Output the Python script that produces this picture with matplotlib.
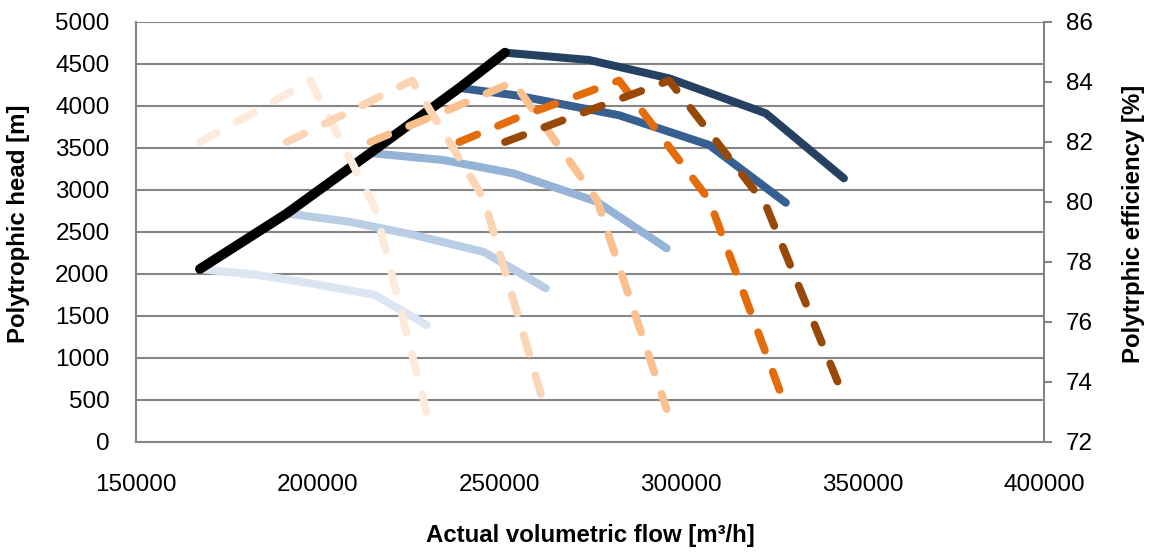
import matplotlib
matplotlib.use("Agg")
import matplotlib.pyplot as plt

# Speed lines: actual volumetric flow [m3/h], polytropic head [m], efficiency [%]
flow_1 = [167600, 183200, 198000, 215800, 230000]
head_1 = [2060, 1990, 1890, 1750, 1393]
eff_1 = [82.0, 83.03, 84.05, 79.8, 73.0]

flow_2 = [191500, 208600, 226000, 245800, 262800]
head_2 = [2720, 2623, 2470, 2262, 1830]
eff_2 = [82.0, 83.0, 84.05, 80.1, 73.05]

flow_3 = [214500, 234600, 253900, 276900, 296100]
head_3 = [3440, 3357, 3198, 2861, 2306]
eff_3 = [82.0, 83.0, 84.0, 80.07, 73.1]

flow_4 = [239000, 254800, 283000, 307800, 328900]
head_4 = [4215, 4125, 3890, 3536, 2849]
eff_4 = [82.0, 82.8, 84.05, 80.07, 73.17]

flow_5 = [251600, 274700, 296800, 323400, 344900]
head_5 = [4635, 4548, 4329, 3913, 3139]
eff_5 = [82.0, 83.05, 84.05, 79.9, 73.5]

# Surge line through the first point of each speed line
surge_flow = [167600, 191500, 214500, 239000, 251600]
surge_head = [2060, 2720, 3440, 4215, 4635]

x_ticks = [150000, 200000, 250000, 300000, 350000, 400000]
head_ticks = [0, 500, 1000, 1500, 2000, 2500, 3000, 3500, 4000, 4500, 5000]
eff_ticks = [72, 74, 76, 78, 80, 82, 84, 86]

head_colors = ["#DCE6F2", "#B9CDE5", "#95B3D7", "#376092", "#254061"]
eff_colors = ["#FDEADA", "#FCD5B5", "#FAC090", "#E46C0A", "#984807"]
grid_color = "#868686"

plt.rcParams["font.family"] = ["Liberation Sans", "DejaVu Sans"]

fig = plt.figure(figsize=(11.51, 5.52), dpi=100)
ax = fig.add_axes([136 / 1151, 110 / 552, 908 / 1151, 420 / 552])

flows = [flow_1, flow_2, flow_3, flow_4, flow_5]
heads = [head_1, head_2, head_3, head_4, head_5]
effs = [eff_1, eff_2, eff_3, eff_4, eff_5]

for f, h, c in zip(flows, heads, head_colors):
    ax.plot(f, h, color=c, lw=5.8, solid_capstyle="round",
            solid_joinstyle="round", zorder=3)
ax.plot(surge_flow, surge_head, color="black", lw=7.0,
        solid_capstyle="round", solid_joinstyle="round", zorder=4)

ax.set_xlim(150000, 400000)
ax.set_ylim(0, 5000)
ax.set_xticks(x_ticks)
ax.set_xticklabels([str(v) for v in x_ticks])
ax.set_yticks(head_ticks)
ax.set_yticklabels([str(v) for v in head_ticks])
ax.yaxis.grid(True, color=grid_color, lw=1.5)
ax.set_axisbelow(True)
ax.tick_params(axis="x", length=0, pad=23, labelsize=17.5, colors="black")
ax.tick_params(axis="y", length=0, pad=19, labelsize=17.5, colors="black")
for side in ["top", "right"]:
    ax.spines[side].set_visible(False)
for side in ["left", "bottom"]:
    ax.spines[side].set_color(grid_color)
    ax.spines[side].set_linewidth(1.5)

ax.set_xlabel("Actual volumetric flow [m³/h]", fontsize=17.3, fontweight="bold")
ax.set_ylabel("Polytrophic head [m]", fontsize=17.3, fontweight="bold")
ax.xaxis.set_label_coords(0.5, -0.195)
ax.yaxis.set_label_coords(-0.117, 0.52)

ax2 = ax.twinx()
for f, e, c in zip(flows, effs, eff_colors):
    ax2.plot(f, e, color=c, lw=5.6, linestyle=(0, (2.5, 2.9)),
             dash_capstyle="round", dash_joinstyle="round", zorder=5)
ax2.set_ylim(72, 86)
ax2.set_yticks(eff_ticks)
ax2.set_yticklabels([str(v) for v in eff_ticks])
ax2.tick_params(axis="y", length=6, width=1.5, color=grid_color, pad=10,
                labelsize=17.5, colors="black")
ax2.tick_params(axis="y", color=grid_color)
for side in ["top", "left", "bottom"]:
    ax2.spines[side].set_visible(False)
ax2.spines["right"].set_color(grid_color)
ax2.spines["right"].set_linewidth(1.5)
ax2.set_ylabel("Polytrphic efficiency [%]", fontsize=17.3, fontweight="bold")
ax2.yaxis.set_label_coords(1.086, 0.52)

fig.savefig("out.png", dpi=100)
